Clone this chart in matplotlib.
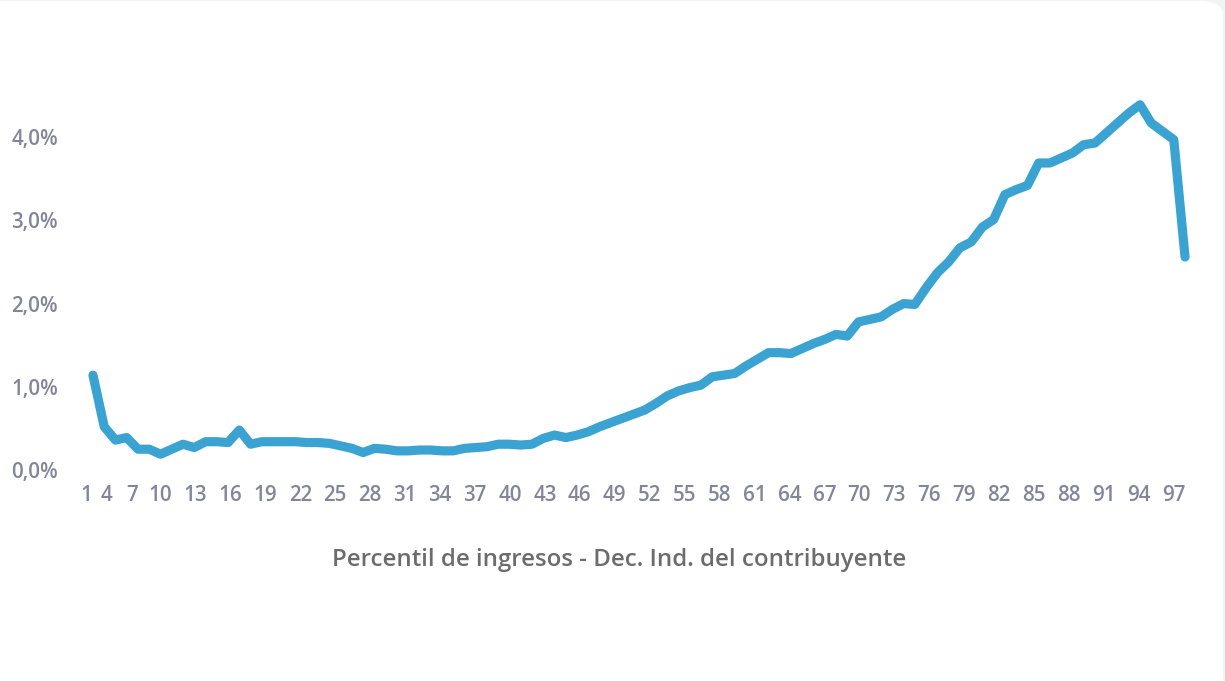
import matplotlib
matplotlib.use("Agg")
import matplotlib.pyplot as plt
from matplotlib.patches import FancyBboxPatch
from matplotlib.ticker import FuncFormatter

# ---- data ----
percentil = list(range(1, 99))
valores = [
    1.14, 0.52, 0.36, 0.39, 0.25, 0.25, 0.19, 0.25, 0.31, 0.27,
    0.34, 0.34, 0.33, 0.48, 0.31, 0.34, 0.34, 0.34, 0.34, 0.33,
    0.33, 0.32, 0.29, 0.26, 0.21, 0.26, 0.25, 0.23, 0.23, 0.24,
    0.24, 0.23, 0.23, 0.26, 0.27, 0.28, 0.31, 0.31, 0.30, 0.31,
    0.38, 0.42, 0.39, 0.42, 0.46, 0.52, 0.57, 0.62, 0.67, 0.72,
    0.80, 0.89, 0.95, 0.99, 1.02, 1.12, 1.14, 1.16, 1.25, 1.33,
    1.41, 1.41, 1.40, 1.46, 1.52, 1.57, 1.63, 1.61, 1.78, 1.81,
    1.84, 1.93, 2.00, 1.99, 2.19, 2.37, 2.50, 2.67, 2.74, 2.92,
    3.01, 3.31, 3.37, 3.42, 3.69, 3.69, 3.75, 3.81, 3.91, 3.93,
    4.05, 4.17, 4.29, 4.39, 4.17, 4.07, 3.97, 2.56,
]
x_labels = [str(v) for v in range(1, 98, 3)]
y_ticks = [0, 1, 2, 3, 4]
x_title = "Percentil de ingresos - Dec. Ind. del contribuyente"

# tick label placement (layout only)
tick_pos = [0.4, 2.2, 4.5] + [7 + (l - 10) * 90 / 87 for l in range(10, 98, 3)]

W, H = 1225, 681
fig = plt.figure(figsize=(W / 100, H / 100), dpi=100)
fig.patch.set_facecolor("#f3f3f3")
card = FancyBboxPatch((-60 / W, -60 / H), (1223 + 60) / W, (680 + 60) / H,
                      boxstyle="round,pad=0,rounding_size=0.02",
                      transform=fig.transFigure, facecolor="white",
                      edgecolor="none", zorder=-10)
fig.patches.append(card)

left = 81.7 / W
width = (1196.3 - 81.7) / W
bottom = (H - 470) / H
height = 416 / H
ax = fig.add_axes([left, bottom, width, height])
ax.set_facecolor("none")

ax.plot(percentil, valores, color="#3aa3d2", lw=6.6, solid_capstyle="round",
        solid_joinstyle="round", clip_on=False)

ax.set_xlim(0, 99)
ax.set_ylim(0, 5)

tick_color = "#83869a"
font = "Open Sans"
ax.set_yticks(y_ticks)
ax.yaxis.set_major_formatter(FuncFormatter(lambda v, p: f"{v:.1f}".replace(".", ",") + "%"))
ax.set_xticks(tick_pos)
ax.set_xticklabels(x_labels)
for lab in ax.get_yticklabels() + ax.get_xticklabels():
    lab.set_fontfamily(font)
    lab.set_fontweight("semibold")
    lab.set_fontsize(14.8)
    lab.set_color(tick_color)
ax.tick_params(axis="y", length=0, pad=17)
ax.tick_params(axis="x", length=0, pad=11)
for s in ax.spines.values():
    s.set_visible(False)

fig.text(619 / W, 1 - 560 / H, x_title, ha="center", va="center",
         fontfamily=font, fontweight="semibold", fontsize=17.3, color="#6c6c6c")

fig.savefig("out.png", dpi=100, facecolor=fig.get_facecolor())
